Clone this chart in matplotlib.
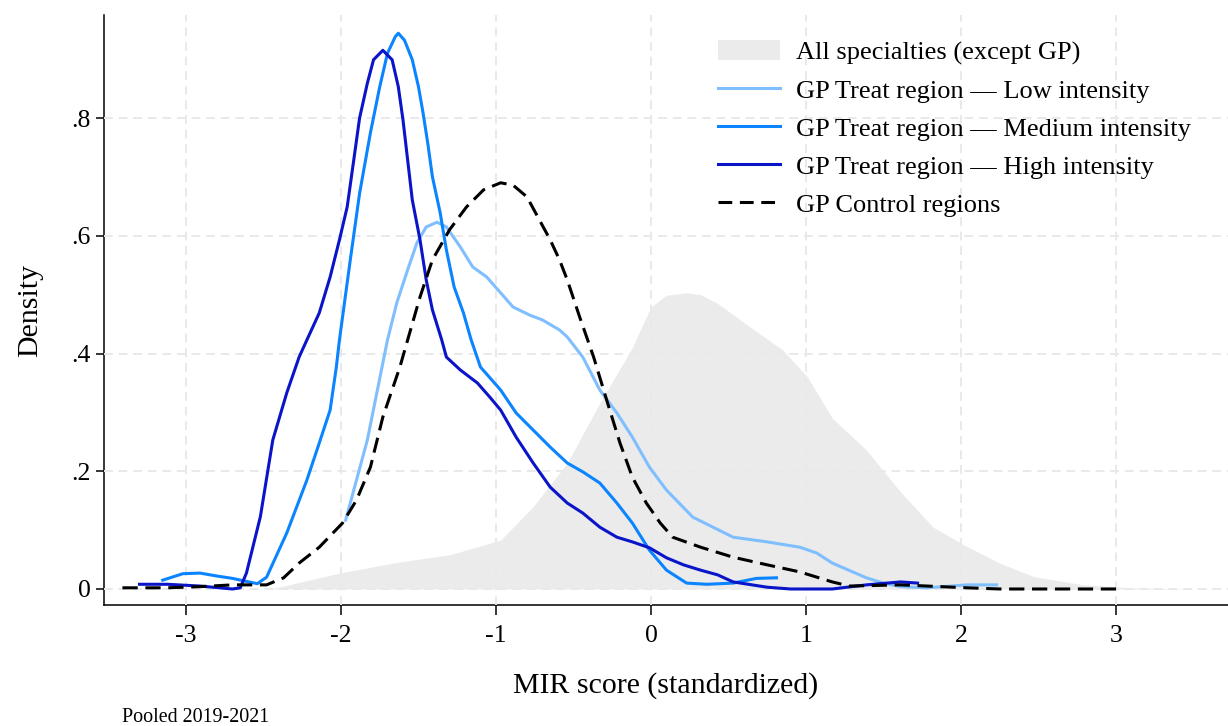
import matplotlib
matplotlib.use("Agg")
import matplotlib.pyplot as plt
from matplotlib.patches import Patch
from matplotlib.lines import Line2D

plt.rcParams['font.family'] = ['Liberation Serif', 'DejaVu Serif']

# All specialties except GP (shaded density)
all_x = [-2.46, -2.37, -2.01, -1.62, -1.30, -0.97, -0.76, -0.54, -0.33, -0.12, -0.06,
         0.00, 0.10, 0.23, 0.32, 0.43, 0.64, 0.85, 1.01, 1.17, 1.39, 1.61, 1.82,
         2.04, 2.25, 2.47, 2.79, 3.11, 3.54]
all_y = [0.0, 0.005, 0.027, 0.046, 0.058, 0.083, 0.14, 0.214, 0.316, 0.41, 0.445,
         0.479, 0.499, 0.503, 0.50, 0.485, 0.445, 0.406, 0.36, 0.29, 0.236, 0.165,
         0.105, 0.072, 0.044, 0.021, 0.007, 0.002, 0.0]

# GP treated regions, low intensity
low_x = [-1.97, -1.83, -1.70, -1.64, -1.57, -1.51, -1.45, -1.38, -1.32, -1.23, -1.15,
         -1.06, -0.97, -0.89, -0.78, -0.70, -0.59, -0.54, -0.44, -0.33, -0.22, -0.12,
         -0.01, 0.10, 0.27, 0.53, 0.75, 0.96, 1.07, 1.17, 1.39, 1.50, 1.61, 1.78,
         2.04, 2.23]
low_y = [0.117, 0.253, 0.423, 0.486, 0.542, 0.588, 0.615, 0.623, 0.615, 0.581, 0.547,
         0.530, 0.503, 0.479, 0.465, 0.457, 0.440, 0.428, 0.394, 0.338, 0.299, 0.258,
         0.207, 0.168, 0.122, 0.088, 0.080, 0.071, 0.061, 0.044, 0.019, 0.010, 0.004,
         0.002, 0.007, 0.007]

# GP treated regions, medium intensity
med_x = [-3.15, -3.02, -2.91, -2.80, -2.70, -2.54, -2.48, -2.35, -2.22, -2.14, -2.07,
         -2.03, -2.01, -1.94, -1.88, -1.81, -1.75, -1.70, -1.65, -1.63, -1.59, -1.54,
         -1.50, -1.47, -1.44, -1.41, -1.36, -1.32, -1.27, -1.21, -1.16, -1.10, -0.97,
         -0.87, -0.76, -0.65, -0.54, -0.44, -0.33, -0.22, -0.12, -0.01, 0.10, 0.23,
         0.36, 0.53, 0.68, 0.81]
med_y = [0.015, 0.026, 0.027, 0.022, 0.018, 0.009, 0.020, 0.095, 0.185, 0.248, 0.304,
         0.377, 0.423, 0.559, 0.672, 0.775, 0.853, 0.910, 0.938, 0.944, 0.932, 0.899,
         0.853, 0.808, 0.757, 0.700, 0.639, 0.576, 0.513, 0.469, 0.423, 0.377, 0.338,
         0.299, 0.27, 0.241, 0.214, 0.199, 0.18, 0.146, 0.112, 0.066, 0.032, 0.01,
         0.008, 0.01, 0.018, 0.019]

# GP treated regions, high intensity
high_x = [-3.30, -3.12, -2.91, -2.70, -2.65, -2.61, -2.52, -2.44, -2.35, -2.27, -2.22,
          -2.14, -2.07, -2.01, -1.96, -1.92, -1.88, -1.83, -1.79, -1.73, -1.67, -1.63,
          -1.60, -1.57, -1.54, -1.49, -1.45, -1.41, -1.35, -1.32, -1.23, -1.12, -1.04,
          -0.97, -0.87, -0.76, -0.65, -0.54, -0.44, -0.33, -0.22, -0.12, -0.01, 0.10,
          0.21, 0.32, 0.43, 0.53, 0.75, 0.90, 1.17, 1.39, 1.61, 1.72]
high_y = [0.008, 0.008, 0.005, 0.0, 0.002, 0.027, 0.123, 0.253, 0.333, 0.394, 0.423,
          0.469, 0.530, 0.593, 0.649, 0.724, 0.800, 0.859, 0.899, 0.915, 0.899, 0.853,
          0.797, 0.729, 0.661, 0.593, 0.525, 0.474, 0.423, 0.394, 0.372, 0.35, 0.326,
          0.304, 0.258, 0.214, 0.173, 0.146, 0.129, 0.105, 0.088, 0.08, 0.07, 0.053,
          0.041, 0.032, 0.024, 0.012, 0.003, 0.0, 0.0, 0.007, 0.012, 0.01]

# GP control regions
ctrl_x = [-3.41, -3.12, -2.91, -2.70, -2.48, -2.37, -2.27, -2.14, -1.99, -1.90, -1.81,
          -1.73, -1.62, -1.57, -1.49, -1.41, -1.30, -1.19, -1.08, -0.97, -0.89, -0.80,
          -0.72, -0.65, -0.59, -0.54, -0.46, -0.37, -0.28, -0.20, -0.12, -0.03, 0.06,
          0.14, 0.32, 0.53, 0.75, 0.96, 1.17, 1.28, 1.61, 2.04, 2.25, 3.03]
ctrl_y = [0.002, 0.002, 0.004, 0.007, 0.007, 0.019, 0.044, 0.071, 0.112, 0.151, 0.207,
          0.292, 0.377, 0.423, 0.496, 0.559, 0.610, 0.649, 0.678, 0.690, 0.686, 0.666,
          0.627, 0.593, 0.559, 0.525, 0.462, 0.394, 0.316, 0.248, 0.19, 0.146, 0.112,
          0.088, 0.071, 0.054, 0.041, 0.029, 0.012, 0.005, 0.007, 0.002, 0.0, 0.0]

x_ticks = [-3, -2, -1, 0, 1, 2, 3]
y_ticks = [0, 0.2, 0.4, 0.6, 0.8]
y_tick_labels = ["0", ".2", ".4", ".6", ".8"]

c_fill = "#ebebeb"
c_low = "#80bfff"
c_med = "#0a84ff"
c_high = "#0a14c8"

W, H = 1228, 726
fig = plt.figure(figsize=(W / 100, H / 100), dpi=100)
ax = fig.add_axes([104 / W, 1 - 605 / H, (W - 104) / W, (605 - 15) / H])

ax.fill_between(all_x, 0, all_y, color=c_fill, linewidth=0, zorder=1)
lw = 2.2
ax.plot(low_x, low_y, color=c_low, lw=lw, zorder=3, solid_joinstyle="round")
ax.plot(med_x, med_y, color=c_med, lw=lw, zorder=3, solid_joinstyle="round")
ax.plot(high_x, high_y, color=c_high, lw=lw, zorder=3, solid_joinstyle="round")
ax.plot(ctrl_x, ctrl_y, color="black", lw=lw, dashes=(5, 2.5), zorder=4)

ax.set_xlim(-3.529, 3.723)
ax.set_ylim(-0.0272, 0.975)
ax.set_xticks(x_ticks)
ax.set_xticklabels([str(v) for v in x_ticks])
ax.set_yticks(y_ticks)
ax.set_yticklabels(y_tick_labels)

ax.grid(True, color="#e9e9e9", lw=1.4, dashes=(4.5, 3))
ax.set_axisbelow(False)
for gl in ax.get_xgridlines() + ax.get_ygridlines():
    gl.set_zorder(2)

for s in ("top", "right"):
    ax.spines[s].set_visible(False)
for s in ("left", "bottom"):
    ax.spines[s].set_linewidth(1.1)
ax.tick_params(axis="x", direction="out", length=7.2, width=1.1, pad=7, labelsize=18.5)
ax.tick_params(axis="y", direction="out", length=5.8, width=1.1, pad=4, labelsize=18.5)

ax.set_xlabel("MIR score (standardized)", fontsize=21.5, labelpad=18)
ax.set_ylabel("Density", fontsize=21.5, labelpad=20)

handles = [
    Patch(facecolor=c_fill, edgecolor="none"),
    Line2D([], [], color=c_low, lw=lw),
    Line2D([], [], color=c_med, lw=lw),
    Line2D([], [], color=c_high, lw=lw),
    Line2D([], [], color="black", lw=lw, dashes=(4.5, 2.5)),
]
labels = [
    "All specialties (except GP)",
    "GP Treat region — Low intensity",
    "GP Treat region — Medium intensity",
    "GP Treat region — High intensity",
    "GP Control regions",
]
fig.legend(handles, labels, loc="upper left", bbox_to_anchor=(718 / W, 1 - 40 / H),
           frameon=False, fontsize=19, handlelength=2.35, handleheight=0.8,
           handletextpad=0.6, labelspacing=0.52, borderpad=0, borderaxespad=0)

fig.text(122 / W, 1 - 718 / H, "Pooled 2019-2021", fontsize=14.4, va="center", ha="left")

fig.savefig("out.png", dpi=100)
